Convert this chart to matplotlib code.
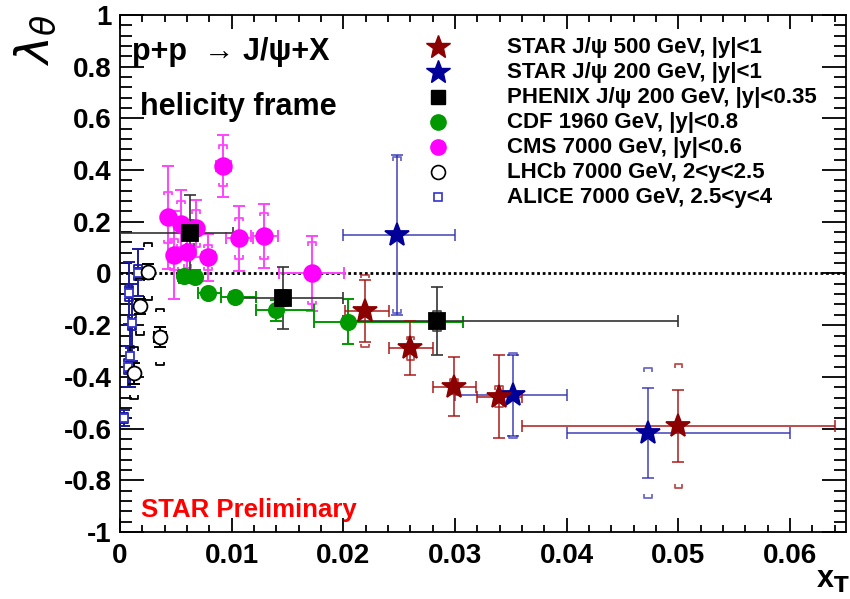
import numpy as np
import matplotlib
matplotlib.use('Agg')
import matplotlib.pyplot as plt
from matplotlib.collections import LineCollection
from matplotlib.lines import Line2D
from matplotlib.ticker import MultipleLocator

plt.rcParams['font.family'] = ['Liberation Sans', 'DejaVu Sans']
plt.rcParams['font.weight'] = 'normal'
plt.rcParams['mathtext.fontset'] = 'dejavusans'

# --- data (x_T, lambda_theta, errors) ---
star500_x = [0.0219, 0.0260, 0.0299, 0.0339, 0.0500]
star500_xlo = [0.0018, 0.0019, 0.0019, 0.0019, 0.0140]
star500_xhi = [0.0022, 0.0020, 0.0020, 0.0021, 0.0140]
star500_y = [-0.145, -0.289, -0.438, -0.477, -0.590]
star500_stat = [0.12, 0.105, 0.115, 0.16, 0.14]
star500_sys = [0.14, 0.045, 0.03, 0.04, 0.24]

star200_x = [0.0248, 0.0352, 0.0473]
star200_xlo = [0.0048, 0.0052, 0.0073]
star200_xhi = [0.0052, 0.0048, 0.0127]
star200_y = [0.149, -0.472, -0.617]
star200_stat = [0.31, 0.155, 0.175]
star200_sys = [0.30, 0.165, 0.25]

phenix_x = [0.0063, 0.0146, 0.0284]
phenix_xlo = [0.0063, 0.0045, 0.0084]
phenix_xhi = [0.0038, 0.0054, 0.0216]
phenix_y = [0.155, -0.094, -0.184]
phenix_stat = [0.15, 0.12, 0.13]
phenix_sys = [0.05, 0.03, 0.04]

cdf_x = [0.0057, 0.0067, 0.0079, 0.0103, 0.0140, 0.0204]
cdf_xlo = [0.0005, 0.0004, 0.0009, 0.0013, 0.0018, 0.0030]
cdf_xhi = [0.0006, 0.0003, 0.0011, 0.0019, 0.0034, 0.0103]
cdf_y = [-0.010, -0.012, -0.077, -0.090, -0.142, -0.186]
cdf_stat = [0.025, 0.025, 0.015, 0.02, 0.04, 0.087]

cms_x = [0.00432, 0.00544, 0.00680, 0.00486, 0.00604, 0.00790, 0.00925, 0.01068, 0.01292, 0.01716]
cms_xerr = [0.0004, 0.0004, 0.0005, 0.0004, 0.0005, 0.0006, 0.0007, 0.0012, 0.0012, 0.0029]
cms_y = [0.217, 0.191, 0.174, 0.072, 0.083, 0.062, 0.417, 0.136, 0.145, 0.001]
cms_stat = [0.20, 0.13, 0.11, 0.17, 0.10, 0.09, 0.12, 0.125, 0.125, 0.145]
cms_sys = [0.10, 0.09, 0.07, 0.06, 0.06, 0.05, 0.08, 0.08, 0.09, 0.12]

lhcb_x = [0.00253, 0.00176, 0.00358, 0.00125]
lhcb_xerr = [0.0003, 0.0003, 0.0005, 0.0002]
lhcb_y = [0.007, -0.127, -0.246, -0.386]
lhcb_stat = [0.03, 0.03, 0.04, 0.04]
lhcb_sys = [0.11, 0.11, 0.11, 0.10]

alice_x = [0.0016, 0.0008, 0.0011, 0.0009, 0.0007, 0.0004]
alice_xerr = [0.0002, 0.0002, 0.0002, 0.0002, 0.0002, 0.0002]
alice_y = [0.003, -0.077, -0.190, -0.320, -0.360, -0.560]
alice_stat = [0.09, 0.12, 0.15, 0.12, 0.08, 0.03]
alice_sys = [0.03, 0.03, 0.03, 0.04, 0.03, 0.02]

legend_labels = ['STAR J/\u03c8 500 GeV, |y|<1',
                 'STAR J/\u03c8 200 GeV, |y|<1',
                 'PHENIX J/\u03c8 200 GeV, |y|<0.35',
                 'CDF 1960 GeV, |y|<0.8',
                 'CMS 7000 GeV, |y|<0.6',
                 'LHCb 7000 GeV, 2<y<2.5',
                 'ALICE 7000 GeV, 2.5<y<4']

fig = plt.figure(figsize=(8.5, 5.99), dpi=100)
ax = fig.add_axes([0.1412, 0.1119, 0.8541, 0.8631])
ax.set_xlim(0, 0.065)
ax.set_ylim(-1, 1)


def sys_brackets(x, y, s, color, w=0.00035, h=0.014, alpha=1.0):
    segs = []
    for xi, yi, si in zip(x, y, s):
        for sgn in (1, -1):
            yb = yi + sgn * si
            segs.append([(xi - w, yb - sgn * h), (xi - w, yb), (xi + w, yb), (xi + w, yb - sgn * h)])
    ax.add_collection(LineCollection(segs, colors=color, linewidths=1.3, alpha=alpha, zorder=3))


def draw(x, y, xerr, stat, sys, mcolor, ecolor, marker, ms, mfc=None, alpha=1.0, scolor=None):
    ax.errorbar(x, y, xerr=xerr, yerr=stat, fmt='none', ecolor=ecolor, elinewidth=1.4,
                capsize=4, capthick=1.4, alpha=alpha, zorder=3)
    if sys is not None:
        sys_brackets(x, y, sys, scolor or ecolor, alpha=alpha)
    ax.plot(x, y, ls='none', marker=marker, ms=ms, color=mcolor,
            mfc=mfc if mfc else mcolor, mec=mcolor, mew=1.3, zorder=5)


ax.axhline(0, color='black', ls=(0, (1, 1)), lw=2, zorder=1)

draw(alice_x, alice_y, alice_xerr, alice_stat, alice_sys, '#3333cc', '#1a1aa0', 's', 6, mfc='white')
draw(lhcb_x, lhcb_y, lhcb_xerr, lhcb_stat, lhcb_sys, 'black', 'black', 'o', 10, mfc='white')
draw(cms_x, cms_y, cms_xerr, cms_stat, cms_sys, '#ff00ff', '#ff44ff', 'o', 12)
draw(cdf_x, cdf_y, [cdf_xlo, cdf_xhi], cdf_stat, None, '#009900', '#009900', 'o', 11)
draw(phenix_x, phenix_y, [phenix_xlo, phenix_xhi], phenix_stat, phenix_sys, 'black', '#333333', 's', 11, alpha=0.85)
draw(star200_x, star200_y, [star200_xlo, star200_xhi], star200_stat, star200_sys, '#000099', '#2a2ab0', '*', 18, alpha=0.7)
draw(star500_x, star500_y, [star500_xlo, star500_xhi], star500_stat, star500_sys, '#8b0000', '#a81010', '*', 18, alpha=0.75)

# axes styling, ROOT-like
ax.xaxis.set_major_locator(MultipleLocator(0.01))
ax.xaxis.set_minor_locator(MultipleLocator(0.002))
ax.yaxis.set_major_locator(MultipleLocator(0.2))
ax.yaxis.set_minor_locator(MultipleLocator(0.04))
ax.tick_params(which='both', direction='in', top=True, right=True, width=1.3, labelsize=20)
ax.tick_params(axis='y', which='major', length=17, pad=6)
ax.tick_params(axis='y', which='minor', length=8.5)
ax.tick_params(axis='x', which='major', length=10, pad=8)
ax.tick_params(axis='x', which='minor', length=5)
ax.set_xticks([0, 0.01, 0.02, 0.03, 0.04, 0.05, 0.06])
ax.set_xticklabels(['0', '0.01', '0.02', '0.03', '0.04', '0.05', '0.06'], fontweight='bold')
ax.set_yticks([-1, -0.8, -0.6, -0.4, -0.2, 0, 0.2, 0.4, 0.6, 0.8, 1])
ax.set_yticklabels(['-1', '-0.8', '-0.6', '-0.4', '-0.2', '0', '0.2', '0.4', '0.6', '0.8', '1'], fontweight='bold')
for sp in ax.spines.values():
    sp.set_linewidth(1.3)

W, H = 850.0, 599.0

# legend drawn by hand
leg_style = [dict(marker='*', ms=18, color='#8b0000'),
             dict(marker='*', ms=18, color='#000099'),
             dict(marker='s', ms=10, color='black'),
             dict(marker='o', ms=11, color='#009900'),
             dict(marker='o', ms=11, color='#ff00ff'),
             dict(marker='o', ms=10, color='black', mfc='white', mew=1.2),
             dict(marker='s', ms=6, color='#3333cc', mfc='white', mew=1.2)]
for i, (lab, st) in enumerate(zip(legend_labels, leg_style)):
    yc = 47 + 25 * i
    fig.add_artist(Line2D([438 / W], [1 - yc / H], ls='none', transform=fig.transFigure, **st))
    fig.text(507 / W, 1 - (yc + 6) / H, lab, fontsize=16, fontweight='bold', va='baseline', ha='left')

fig.text(132 / W, 1 - 60 / H, 'p+p  \u2192 J/\u03c8+X', fontsize=22, fontweight='bold', va='baseline')
fig.text(140 / W, 1 - 115 / H, 'helicity frame', fontsize=22, fontweight='bold', va='baseline')
fig.text(141 / W, 1 - 517 / H, 'STAR Preliminary', fontsize=18.5, fontweight='bold', color='#ff0000', va='baseline')
fig.text(36 / W, 1 - 14 / H, r'$\lambda_{\theta}$', fontsize=34, rotation=90, ha='center', va='top')
fig.text(816 / W, 1 - 588 / H, r'x$_{\mathbf{T}}$', fontsize=22, fontweight='bold', va='baseline', ha='left')

fig.savefig('out.png', dpi=100)
